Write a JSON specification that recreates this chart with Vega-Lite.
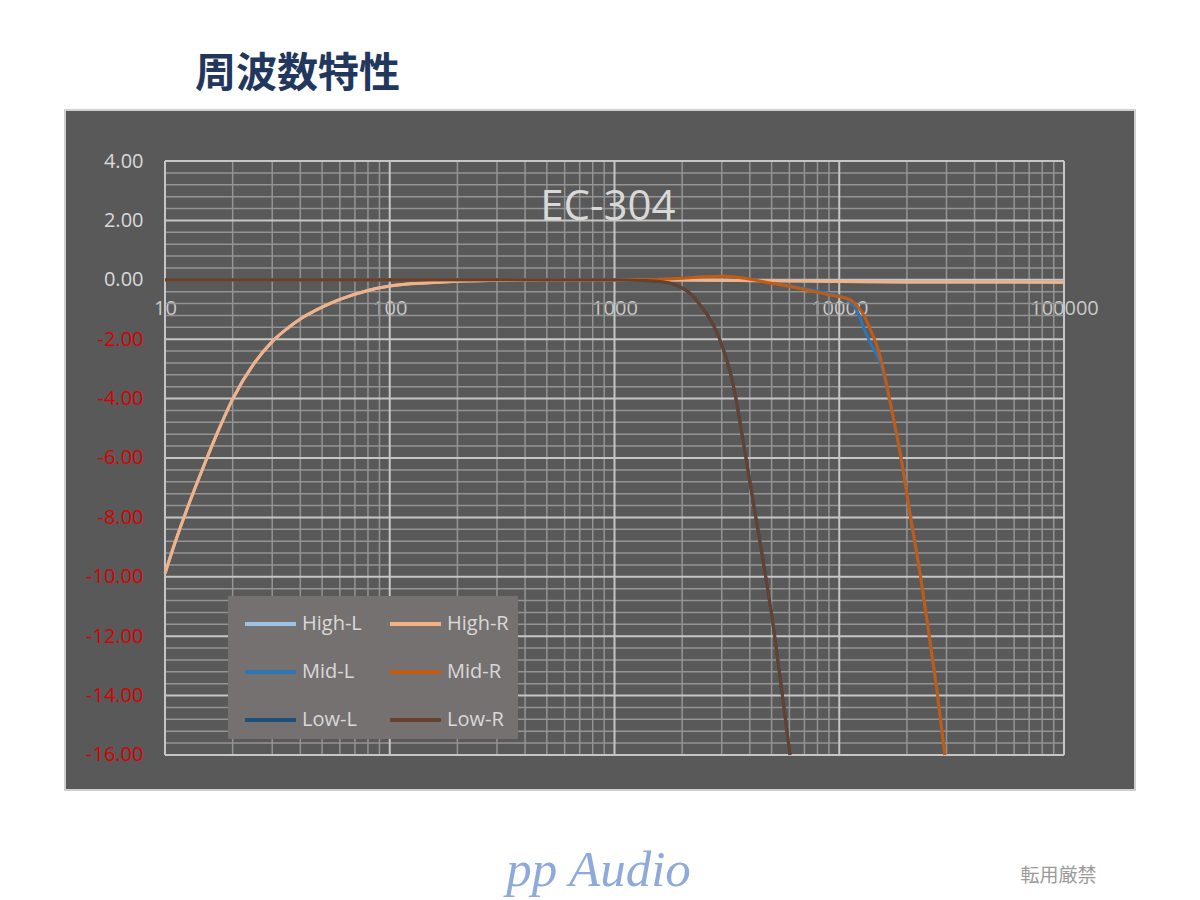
{
  "$schema": "https://vega.github.io/schema/vega-lite/v6.json",
  "width": 1070,
  "height": 680,
  "autosize": {"type": "none"},
  "padding": {"left": 65, "top": 110, "right": 65, "bottom": 110},
  "background": "white",
  "title": {"text": "周波数特性", "anchor": "start", "frame": "group", "dx": 130, "offset": 14, "fontSize": 41, "font": "Noto Sans CJK JP", "fontWeight": "bold", "color": "#22375e"},
  "datasets": {
    "xmin": [{"f":20},{"f":30},{"f":40},{"f":50},{"f":60},{"f":70},{"f":80},{"f":90},
             {"f":200},{"f":300},{"f":400},{"f":500},{"f":600},{"f":700},{"f":800},{"f":900},
             {"f":2000},{"f":3000},{"f":4000},{"f":5000},{"f":6000},{"f":7000},{"f":8000},{"f":9000},
             {"f":20000},{"f":30000},{"f":40000},{"f":50000},{"f":60000},{"f":70000},{"f":80000},{"f":90000}],
    "xmaj": [{"f":10},{"f":100},{"f":1000},{"f":10000},{"f":100000}],
    "ymin": [{"db":-15.6},{"db":-15.2},{"db":-14.8},{"db":-14.4},
             {"db":-13.6},{"db":-13.2},{"db":-12.8},{"db":-12.4},
             {"db":-11.6},{"db":-11.2},{"db":-10.8},{"db":-10.4},
             {"db":-9.6},{"db":-9.2},{"db":-8.8},{"db":-8.4},
             {"db":-7.6},{"db":-7.2},{"db":-6.8},{"db":-6.4},
             {"db":-5.6},{"db":-5.2},{"db":-4.8},{"db":-4.4},
             {"db":-3.6},{"db":-3.2},{"db":-2.8},{"db":-2.4},
             {"db":-1.6},{"db":-1.2},{"db":-0.8},{"db":-0.4},
             {"db":0.4},{"db":0.8},{"db":1.2},{"db":1.6},
             {"db":2.4},{"db":2.8},{"db":3.2},{"db":3.6}],
    "ymaj": [{"db":-16},{"db":-14},{"db":-12},{"db":-10},{"db":-8},{"db":-6},{"db":-4},{"db":-2},{"db":0},{"db":2},{"db":4}],
    "lab": [{"t": "EC-304"}],
    "curves": [
      {"s":"High-L","f":10,"db":-9.89},{"s":"High-L","f":11,"db":-8.92},{"s":"High-L","f":12.5,"db":-7.74},{"s":"High-L","f":15,"db":-6.2},{"s":"High-L","f":17.5,"db":-4.98},{"s":"High-L","f":20,"db":-4.02},{"s":"High-L","f":25,"db":-2.8},{"s":"High-L","f":30,"db":-2.08},{"s":"High-L","f":35,"db":-1.64},{"s":"High-L","f":40,"db":-1.32},{"s":"High-L","f":50,"db":-0.92},{"s":"High-L","f":60,"db":-0.66},{"s":"High-L","f":80,"db":-0.36},{"s":"High-L","f":100,"db":-0.21},{"s":"High-L","f":150,"db":-0.1},{"s":"High-L","f":200,"db":-0.05},{"s":"High-L","f":300,"db":-0.02},{"s":"High-L","f":500,"db":0},{"s":"High-L","f":1000,"db":0},{"s":"High-L","f":2000,"db":-0.01},{"s":"High-L","f":5000,"db":-0.03},{"s":"High-L","f":10000,"db":-0.06},{"s":"High-L","f":20000,"db":-0.07},{"s":"High-L","f":50000,"db":-0.07},{"s":"High-L","f":100000,"db":-0.08},
      {"s":"Mid-L","f":10,"db":0},{"s":"Mid-L","f":100,"db":0},{"s":"Mid-L","f":1000,"db":0},{"s":"Mid-L","f":1500,"db":0.01},{"s":"Mid-L","f":2000,"db":0.05},{"s":"Mid-L","f":2500,"db":0.1},{"s":"Mid-L","f":3070,"db":0.12},{"s":"Mid-L","f":3800,"db":0.05},{"s":"Mid-L","f":4786,"db":-0.08},{"s":"Mid-L","f":6000,"db":-0.2},{"s":"Mid-L","f":7211,"db":-0.32},{"s":"Mid-L","f":8500,"db":-0.42},{"s":"Mid-L","f":9480,"db":-0.5},{"s":"Mid-L","f":10500,"db":-0.6},{"s":"Mid-L","f":11240,"db":-0.76},{"s":"Mid-L","f":12000,"db":-1.05},{"s":"Mid-L","f":12530,"db":-1.4},{"s":"Mid-L","f":12970,"db":-1.7},{"s":"Mid-L","f":13420,"db":-1.95},{"s":"Mid-L","f":13800,"db":-2.15},{"s":"Mid-L","f":14870,"db":-2.6},{"s":"Mid-L","f":15800,"db":-3.2},{"s":"Mid-L","f":16740,"db":-4.05},{"s":"Mid-L","f":18870,"db":-6.03},{"s":"Mid-L","f":20820,"db":-8.04},{"s":"Mid-L","f":23070,"db":-10.06},{"s":"Mid-L","f":25120,"db":-11.97},{"s":"Mid-L","f":27370,"db":-13.98},{"s":"Mid-L","f":29500,"db":-16.0},
      {"s":"Low-L","f":10,"db":0},{"s":"Low-L","f":100,"db":0},{"s":"Low-L","f":500,"db":0},{"s":"Low-L","f":1000,"db":0},{"s":"Low-L","f":1300,"db":-0.02},{"s":"Low-L","f":1600,"db":-0.06},{"s":"Low-L","f":1800,"db":-0.13},{"s":"Low-L","f":2036,"db":-0.31},{"s":"Low-L","f":2200,"db":-0.5},{"s":"Low-L","f":2416,"db":-0.87},{"s":"Low-L","f":2650,"db":-1.3},{"s":"Low-L","f":2866,"db":-1.8},{"s":"Low-L","f":3020,"db":-2.25},{"s":"Low-L","f":3174,"db":-2.75},{"s":"Low-L","f":3320,"db":-3.3},{"s":"Low-L","f":3459,"db":-3.95},{"s":"Low-L","f":3768,"db":-5.6},{"s":"Low-L","f":4178,"db":-7.65},{"s":"Low-L","f":4628,"db":-9.65},{"s":"Low-L","f":5129,"db":-11.85},{"s":"Low-L","f":5586,"db":-14.0},{"s":"Low-L","f":6040,"db":-16.0},
      {"s":"High-R","f":10,"db":-9.89},{"s":"High-R","f":11,"db":-8.92},{"s":"High-R","f":12.5,"db":-7.74},{"s":"High-R","f":15,"db":-6.2},{"s":"High-R","f":17.5,"db":-4.98},{"s":"High-R","f":20,"db":-4.02},{"s":"High-R","f":25,"db":-2.8},{"s":"High-R","f":30,"db":-2.08},{"s":"High-R","f":35,"db":-1.64},{"s":"High-R","f":40,"db":-1.32},{"s":"High-R","f":50,"db":-0.92},{"s":"High-R","f":60,"db":-0.66},{"s":"High-R","f":80,"db":-0.36},{"s":"High-R","f":100,"db":-0.21},{"s":"High-R","f":150,"db":-0.1},{"s":"High-R","f":200,"db":-0.05},{"s":"High-R","f":300,"db":-0.02},{"s":"High-R","f":500,"db":0},{"s":"High-R","f":1000,"db":0},{"s":"High-R","f":2000,"db":-0.01},{"s":"High-R","f":5000,"db":-0.03},{"s":"High-R","f":10000,"db":-0.06},{"s":"High-R","f":20000,"db":-0.07},{"s":"High-R","f":50000,"db":-0.07},{"s":"High-R","f":100000,"db":-0.08},
      {"s":"Mid-R","f":10,"db":0},{"s":"Mid-R","f":100,"db":0},{"s":"Mid-R","f":1000,"db":0},{"s":"Mid-R","f":1500,"db":0.01},{"s":"Mid-R","f":2000,"db":0.05},{"s":"Mid-R","f":2500,"db":0.1},{"s":"Mid-R","f":3070,"db":0.12},{"s":"Mid-R","f":3800,"db":0.05},{"s":"Mid-R","f":4786,"db":-0.09},{"s":"Mid-R","f":6000,"db":-0.22},{"s":"Mid-R","f":7211,"db":-0.35},{"s":"Mid-R","f":8500,"db":-0.46},{"s":"Mid-R","f":9480,"db":-0.54},{"s":"Mid-R","f":10500,"db":-0.6},{"s":"Mid-R","f":11240,"db":-0.68},{"s":"Mid-R","f":12000,"db":-0.88},{"s":"Mid-R","f":12530,"db":-1.05},{"s":"Mid-R","f":12970,"db":-1.25},{"s":"Mid-R","f":13800,"db":-1.7},{"s":"Mid-R","f":14870,"db":-2.33},{"s":"Mid-R","f":15800,"db":-3.1},{"s":"Mid-R","f":16740,"db":-4.01},{"s":"Mid-R","f":18870,"db":-6.03},{"s":"Mid-R","f":20820,"db":-8.04},{"s":"Mid-R","f":23070,"db":-10.06},{"s":"Mid-R","f":25120,"db":-11.97},{"s":"Mid-R","f":27370,"db":-13.98},{"s":"Mid-R","f":29500,"db":-16.0},
      {"s":"Low-R","f":10,"db":0},{"s":"Low-R","f":100,"db":0},{"s":"Low-R","f":500,"db":0},{"s":"Low-R","f":1000,"db":0},{"s":"Low-R","f":1300,"db":-0.02},{"s":"Low-R","f":1600,"db":-0.06},{"s":"Low-R","f":1800,"db":-0.13},{"s":"Low-R","f":2036,"db":-0.31},{"s":"Low-R","f":2200,"db":-0.5},{"s":"Low-R","f":2416,"db":-0.87},{"s":"Low-R","f":2650,"db":-1.3},{"s":"Low-R","f":2866,"db":-1.8},{"s":"Low-R","f":3020,"db":-2.25},{"s":"Low-R","f":3174,"db":-2.75},{"s":"Low-R","f":3320,"db":-3.3},{"s":"Low-R","f":3459,"db":-3.95},{"s":"Low-R","f":3768,"db":-5.6},{"s":"Low-R","f":4178,"db":-7.65},{"s":"Low-R","f":4628,"db":-9.65},{"s":"Low-R","f":5129,"db":-11.85},{"s":"Low-R","f":5586,"db":-14.0},{"s":"Low-R","f":6040,"db":-16.0}
    ]
  },
  "layer": [
    {
      "data": {"name": "xmin"},
      "mark": {"type": "rule", "color": "#949494", "strokeWidth": 1.5},
      "encoding": {
        "x": {"field": "f", "type": "quantitative", "scale": {"type": "log", "domain": [3.59, 206960], "nice": false}},
        "y": {"datum": -16, "type": "quantitative", "scale": {"domain": [-17.1785, 5.7172], "nice": false, "zero": false}},
        "y2": {"datum": 4}
      }
    },
    {
      "data": {"name": "ymin"},
      "mark": {"type": "rule", "color": "#949494", "strokeWidth": 1.5},
      "encoding": {
        "y": {"field": "db", "type": "quantitative", "scale": {"domain": [-17.1785, 5.7172], "nice": false, "zero": false}},
        "x": {"datum": 10, "type": "quantitative", "scale": {"type": "log", "domain": [3.59, 206960], "nice": false}},
        "x2": {"datum": 100000}
      }
    },
    {
      "data": {"name": "xmaj"},
      "mark": {"type": "rule", "color": "#c6c6c6", "strokeWidth": 2},
      "encoding": {
        "x": {"field": "f", "type": "quantitative", "scale": {"type": "log", "domain": [3.59, 206960], "nice": false}},
        "y": {"datum": -16, "type": "quantitative", "scale": {"domain": [-17.1785, 5.7172], "nice": false, "zero": false}},
        "y2": {"datum": 4}
      }
    },
    {
      "data": {"name": "ymaj"},
      "mark": {"type": "rule", "color": "#c6c6c6", "strokeWidth": 2},
      "encoding": {
        "y": {"field": "db", "type": "quantitative", "scale": {"domain": [-17.1785, 5.7172], "nice": false, "zero": false}},
        "x": {"datum": 10, "type": "quantitative", "scale": {"type": "log", "domain": [3.59, 206960], "nice": false}},
        "x2": {"datum": 100000}
      }
    },
    {
      "data": {"name": "curves"},
      "mark": {"type": "line", "strokeWidth": 3, "interpolate": "monotone"},
      "encoding": {
        "x": {"field": "f", "type": "quantitative",
              "scale": {"type": "log", "domain": [3.59, 206960], "nice": false},
              "axis": {"orient": "bottom", "offset": -510, "values": [10, 100, 1000, 10000, 100000], "format": "d", "grid": false, "domain": false, "ticks": false, "tickSize": 0, "labelPadding": 18, "labelColor": "#c9c9c9", "labelFont": "Open Sans", "labelFontSize": 20, "labelFlush": false, "labelOverlap": false, "labelBound": false,
                       "title": "pp Audio", "titleFont": "Liberation Serif", "titleFontStyle": "italic", "titleFontWeight": "normal", "titleFontSize": 51, "titleColor": "#8eaadb", "titleX": 533, "titleY": 590, "titleAlign": "center", "titleBaseline": "middle"}},
        "y": {"field": "db", "type": "quantitative",
              "scale": {"domain": [-17.1785, 5.7172], "nice": false, "zero": false},
              "axis": {"orient": "left", "offset": -100, "values": [-16, -14, -12, -10, -8, -6, -4, -2, 0, 2, 4], "labelExpr": "replace(format(datum.value, '.2f'), '\u2212', '-')", "grid": false, "domain": false, "ticks": false, "tickSize": 0, "labelPadding": 22,
                       "labelColor": {"condition": {"test": "datum.value < 0", "value": "#d90000"}, "value": "#d9d9d9"}, "labelFont": "Open Sans", "labelFontSize": 20, "labelFlush": false, "labelOverlap": false,
                       "title": "転用厳禁", "titleAngle": 0, "titleX": 893, "titleY": 765, "titleAlign": "center", "titleBaseline": "middle", "titleFont": "Noto Sans CJK JP", "titleFontWeight": "normal", "titleFontSize": 19, "titleColor": "#9a9a9a"}},
        "color": {"field": "s", "type": "nominal",
                  "scale": {"domain": ["High-L", "High-R", "Mid-L", "Mid-R", "Low-L", "Low-R"], "range": ["#9dc3e6", "#f4b183", "#2e75b6", "#c55a11", "#1f4e79", "#67412f"]},
                  "legend": {"orient": "none", "legendX": 163, "legendY": 486, "direction": "horizontal", "columns": 2, "title": null, "symbolType": "M-1.5,0H1.5", "symbolSize": 1156, "symbolStrokeWidth": 4, "symbolOffset": 14.5, "labelFontSize": 20, "labelColor": "#d9d9d9", "labelFont": "Open Sans", "labelOffset": 12.5, "fillColor": "#767171", "padding": 9, "rowPadding": 19, "columnPadding": 20}}
      }
    },
    {
      "data": {"name": "lab"},
      "mark": {"type": "text", "fontSize": 42, "font": "Open Sans", "color": "#d9d9d9", "align": "center", "baseline": "middle"},
      "encoding": {
        "text": {"field": "t", "type": "nominal"},
        "x": {"datum": 935, "type": "quantitative", "scale": {"type": "log", "domain": [3.59, 206960], "nice": false}},
        "y": {"datum": 2.45, "type": "quantitative", "scale": {"domain": [-17.1785, 5.7172], "nice": false, "zero": false}}
      }
    }
  ],
  "config": {
    "view": {"fill": "#595959", "stroke": "#cfcfcf", "strokeWidth": 2}
  }
}
